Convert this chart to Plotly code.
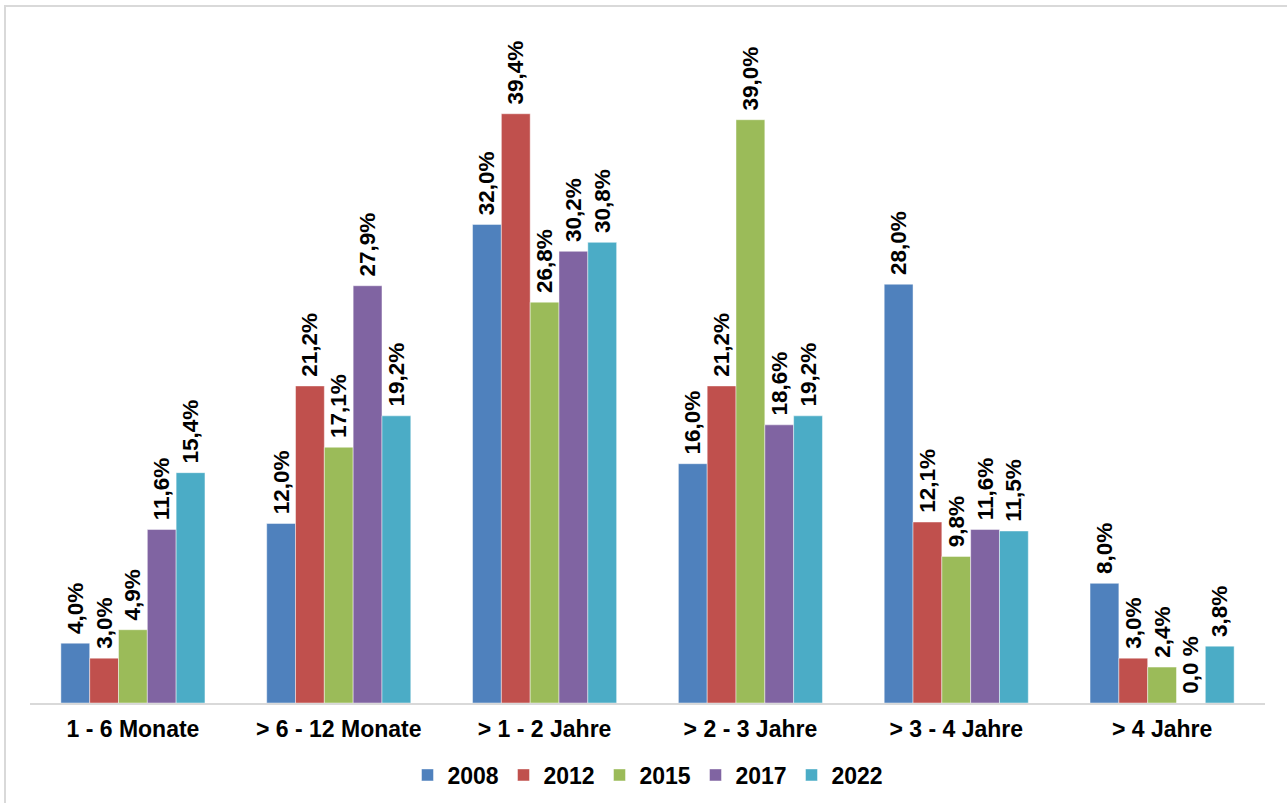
import plotly.graph_objects as go

categories = ["1 - 6 Monate", "> 6 - 12 Monate", "> 1 - 2 Jahre", "> 2 - 3 Jahre", "> 3 - 4 Jahre", "> 4 Jahre"]
series_names = ["2008", "2012", "2015", "2017", "2022"]
v2008 = [4.0, 12.0, 32.0, 16.0, 28.0, 8.0]
v2012 = [3.0, 21.2, 39.4, 21.2, 12.1, 3.0]
v2015 = [4.9, 17.1, 26.8, 39.0, 9.8, 2.4]
v2017 = [11.6, 27.9, 30.2, 18.6, 11.6, 0.0]
v2022 = [15.4, 19.2, 30.8, 19.2, 11.5, 3.8]
colors = ["#4F81BD", "#C0504D", "#9BBB59", "#8064A2", "#4BACC6"]

all_values = [v2008, v2012, v2015, v2017, v2022]

FONT = "Liberation Sans, Arial"

def fmt(v):
    s = f"{v:.1f}".replace(".", ",")
    return "\u00a0" + (s + " %" if v == 0 else s + "%")

fig = go.Figure()
for name, vals, col in zip(series_names, all_values, colors):
    fig.add_trace(go.Bar(
        name=name, x=categories, y=vals,
        marker=dict(color=col, line=dict(color="rgba(255,255,255,0.45)", width=1)),
        text=[fmt(v) for v in vals], textposition="outside", textangle=-90,
        textfont=dict(family=FONT, size=22.5, color="black", weight="bold"),
        constraintext="none", cliponaxis=False,
    ))

W, H = 1287, 803
ml, mr, mt, mb = 30, 22, 30, 100
pw, ph = W - ml - mr, H - mt - mb

def px_x(x):
    return (x - ml) / pw

def px_y(y):
    return (H - mb - y) / ph

fig.update_layout(
    width=W, height=H,
    margin=dict(l=ml, r=mr, t=mt, b=mb, autoexpand=False),
    paper_bgcolor="white", plot_bgcolor="white",
    barmode="group", bargap=0.30, bargroupgap=0,
    showlegend=True,
    legend=dict(orientation="h", x=0.5, xanchor="center", y=px_y(775), yanchor="middle",
                font=dict(family=FONT, size=23, color="black", weight="bold"),
                itemwidth=30, entrywidth=51, traceorder="normal"),
    xaxis=dict(showline=True, linecolor="#d9d9d9", linewidth=2, ticks="", showgrid=False,
               tickfont=dict(family=FONT, size=23, color="black", weight="bold"),
               ticklabelstandoff=4, automargin=False),
    yaxis=dict(range=[0, 45], visible=False, showgrid=False, zeroline=False, automargin=False),
    shapes=[dict(type="rect", xref="paper", yref="paper",
                 x0=px_x(5), x1=px_x(1300), y0=px_y(820), y1=px_y(6),
                 line=dict(color="#d9d9d9", width=2), fillcolor="rgba(0,0,0,0)", layer="below")],
)

fig.write_html("out.html", config={"displayModeBar": False},
               post_script="document.body.style.margin='0';document.body.style.overflow='hidden';")
